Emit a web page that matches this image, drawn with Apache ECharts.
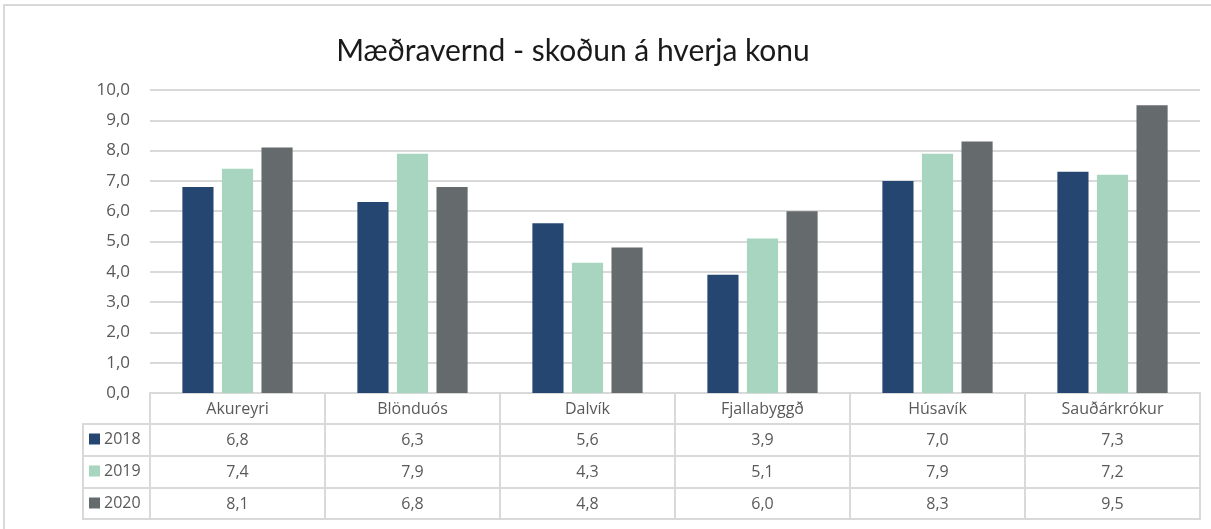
<!DOCTYPE html>
<html>
<head>
<meta charset="utf-8">
<script src="https://cdn.jsdelivr.net/npm/echarts@6/dist/echarts.min.js"></script>
<style>
  html, body { margin: 0; padding: 0; background: #fff; }
  #main { width: 1211px; height: 529px; }
</style>
</head>
<body>
<div id="main"></div>
<script>
// data
var categories = ['Akureyri', 'Blönduós', 'Dalvík', 'Fjallabyggð', 'Húsavík', 'Sauðárkrókur']
var years = ['2018', '2019', '2020']
var v2018 = [6.8, 6.3, 5.6, 3.9, 7.0, 7.3]
var v2019 = [7.4, 7.9, 4.3, 5.1, 7.9, 7.2]
var v2020 = [8.1, 6.8, 4.8, 6.0, 8.3, 9.5]
var colors = ['#264672', '#a8d5bf', '#656a6d']

var titleFont = 'Lato, sans-serif'
var font = '"Open Sans", sans-serif'
var lineColor = '#d9d9d9'
var textColor = '#595959'

function fmt(v) {
  return v.toFixed(1).replace('.', ',')
}

// one row of the data table = an extra category axis pushed down
function tableAxis(offset, values) {
  return {
    type: 'category',
    data: categories,
    position: 'bottom',
    offset: offset,
    axisLine: { show: true, lineStyle: { color: lineColor, width: 2 } },
    axisTick: { show: false },
    axisLabel: {
      show: !!values,
      interval: 0,
      margin: 16,
      verticalAlign: 'middle',
      fontFamily: font,
      fontSize: 16,
      color: textColor,
      formatter: function (val, idx) {
        return values ? fmt(values[idx]) : ''
      }
    }
  }
}

// legend cell for one row of the table
function rowLegend(name, top) {
  return {
    data: [name],
    left: 89,
    top: top,
    icon: 'rect',
    itemWidth: 11,
    itemHeight: 11,
    padding: 0,
    textStyle: { fontFamily: font, fontSize: 16, color: textColor, padding: [0, 0, 0, -1] }
  }
}

var chart = echarts.init(document.getElementById('main'))

chart.setOption({
  animation: false,
  title: {
    text: 'Mæðravernd - skoðun á hverja konu',
    left: 568,
    top: 31,
    textAlign: 'center',
    textStyle: { fontFamily: titleFont, fontSize: 30, fontWeight: 'normal', color: '#1a1a1a' }
  },
  legend: [
    rowLegend('2018', 431),
    rowLegend('2019', 463),
    rowLegend('2020', 495)
  ],
  grid: { left: 150, right: 11, top: 90, bottom: 136, containLabel: false },
  xAxis: [
    {
      type: 'category',
      data: categories,
      position: 'bottom',
      axisLine: { show: true, lineStyle: { color: lineColor, width: 2 } },
      axisTick: { show: true, length: 126, interval: 0, lineStyle: { color: lineColor, width: 2 } },
      axisLabel: {
        interval: 0,
        margin: 16,
        verticalAlign: 'middle',
        fontFamily: font,
        fontSize: 16,
        color: textColor
      }
    },
    tableAxis(31, v2018),
    tableAxis(63, v2019),
    tableAxis(95, v2020),
    tableAxis(126, null)
  ],
  yAxis: {
    type: 'value',
    min: 0,
    max: 10,
    interval: 1,
    axisLine: { show: false },
    axisTick: { show: false },
    axisLabel: {
      margin: 20,
      fontFamily: font,
      fontSize: 17,
      color: textColor,
      formatter: function (v) { return fmt(v) }
    },
    splitLine: { lineStyle: { color: lineColor, width: 2 } }
  },
  series: [
    { name: '2018', type: 'bar', data: v2018, itemStyle: { color: colors[0] }, barGap: '27%', barCategoryGap: '37%' },
    { name: '2019', type: 'bar', data: v2019, itemStyle: { color: colors[1] } },
    { name: '2020', type: 'bar', data: v2020, itemStyle: { color: colors[2] } }
  ],
  graphic: [
    // outer chart border (right and bottom run off the picture)
    { type: 'rect', shape: { x: 4, y: 5, width: 1400, height: 700 }, style: { fill: 'none', stroke: lineColor, lineWidth: 2 }, silent: true },
    // legend column of the data table
    { type: 'line', shape: { x1: 83, y1: 424, x2: 150, y2: 424 }, style: { stroke: lineColor, lineWidth: 2 } },
    { type: 'line', shape: { x1: 83, y1: 456, x2: 150, y2: 456 }, style: { stroke: lineColor, lineWidth: 2 } },
    { type: 'line', shape: { x1: 83, y1: 488, x2: 150, y2: 488 }, style: { stroke: lineColor, lineWidth: 2 } },
    { type: 'line', shape: { x1: 83, y1: 519, x2: 150, y2: 519 }, style: { stroke: lineColor, lineWidth: 2 } },
    { type: 'line', shape: { x1: 83, y1: 423, x2: 83, y2: 520 }, style: { stroke: lineColor, lineWidth: 2 } }
  ]
})
</script>
</body>
</html>
